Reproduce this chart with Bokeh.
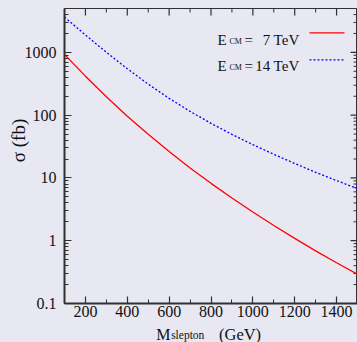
import math
from bokeh.plotting import figure
from bokeh.layouts import column
from bokeh.models import FixedTicker, Label, Arrow, CustomJSTickFormatter, Range1d
from bokeh.embed import file_html
from bokeh.resources import INLINE

# ---- data ----
mass = [100, 200, 300, 400, 500, 600, 700, 800, 900, 1000, 1100, 1200, 1300, 1400, 1500]
sigma_7tev = [929, 418, 196, 96.4, 49.5, 26.3, 14.45, 8.20, 4.79, 2.86, 1.746, 1.089, 0.690, 0.446, 0.292]
sigma_14tev = [3656, 1892, 1002, 550, 312, 185, 115, 74.1, 49.4, 33.9, 23.8, 17.0, 12.3, 9.08, 6.76]

x_major = [200, 400, 600, 800, 1000, 1200, 1400]
x_minor = [100, 300, 500, 700, 900, 1100, 1300, 1500]
y_major = [0.1, 1, 10, 100, 1000]
y_minor = [m * d for d in [0.1, 1, 10, 100, 1000] for m in range(2, 10)]

legend_7 = "7 TeV"
legend_14 = "14 TeV"
y_title = "σ (fb)"

X0, X1 = 100, 1500
Y0, Y1 = 0.1, 5000
W, H = 357, 342
STRIP = 19                      # height of the strip holding the x title
PH = H - STRIP                  # height of the main plot
LEFT, RIGHT, TOP, BOTTOM = 63, 0, 8, 20
FW, FH = W - LEFT - RIGHT, PH - TOP - BOTTOM

BG = "#e8e8f2"
AX = "#303030"
TXT = "#111111"
FONT = "Liberation Serif"

p = figure(width=W, height=PH, y_axis_type="log",
           x_range=Range1d(X0, X1), y_range=Range1d(Y0, Y1),
           output_backend="svg", toolbar_location=None,
           min_border_left=LEFT, min_border_right=RIGHT, min_border_top=TOP,
           min_border_bottom=BOTTOM,
           background_fill_color=BG, border_fill_color=BG,
           outline_line_color=AX, outline_line_width=1)
p.grid.visible = False

MAJ, MIN = 7, 4

for ax, ticks, minors in [(p.xaxis[0], x_major, x_minor), (p.yaxis[0], y_major, y_minor)]:
    ax.ticker = FixedTicker(ticks=ticks, minor_ticks=minors)
    ax.major_tick_in = MAJ
    ax.major_tick_out = 0
    ax.minor_tick_in = MIN
    ax.minor_tick_out = 0
    ax.axis_line_color = AX
    ax.axis_line_width = 2
    ax.major_tick_line_color = AX
    ax.minor_tick_line_color = AX
    ax.major_tick_line_width = 1.2
    ax.minor_tick_line_width = 1
    ax.major_label_text_font = FONT
    ax.major_label_text_font_size = "16px"
    ax.major_label_text_color = TXT

p.xaxis[0].major_label_standoff = 2
p.yaxis[0].major_label_standoff = 8
p.yaxis[0].formatter = CustomJSTickFormatter(code="return tick.toString()")

# ---- mirrored ticks on top and right edges (from the same tick lists) ----
ppd = FH / math.log10(Y1 / Y0)          # pixels per decade
upx = (X1 - X0) / FW                    # data units per pixel (x)

def top_ticks(xs, length, lw):
    p.segment(x0=xs, y0=[Y1] * len(xs), x1=xs,
              y1=[Y1 / 10 ** (length / ppd)] * len(xs),
              line_color=AX, line_width=lw)

def right_ticks(ys, length, lw):
    p.segment(x0=[X1] * len(ys), y0=ys, x1=[X1 - length * upx] * len(ys), y1=ys,
              line_color=AX, line_width=lw)

top_ticks(x_major, MAJ, 1.2)
top_ticks(x_minor, MIN, 1)
right_ticks(y_major, MAJ, 1.2)
right_ticks(y_minor, MIN, 1)

# ---- curves ----
p.line(mass, sigma_7tev, line_color="#ff0000", line_width=1.3)
p.line(mass, sigma_14tev, line_color="#0000ff", line_width=1.3, line_dash="2 2")

# ---- legend (hand-built, inside the frame) ----
def lab(fig, text, x, y, size, align="left", angle=0.0, baseline="alphabetic"):
    fig.add_layout(Label(x=x, y=y, x_units="screen", y_units="screen", text=text,
                         text_font=FONT, text_font_size=size, text_color=TXT,
                         text_align=align, text_baseline=baseline, angle=angle))

for base, txt in [(264, legend_7), (238, legend_14)]:
    lab(p, "E", 153, base, "15px")
    lab(p, "CM", 165, base - 1.7, "8px")
    lab(p, "=", 180, base, "15px")
    lab(p, txt, 235, base, "15px", align="right")

p.add_layout(Arrow(end=None, x_start=245, y_start=270.7, x_end=280, y_end=270.7,
                   start_units="screen", end_units="screen",
                   line_color="#ff0000", line_width=1.3))
p.add_layout(Arrow(end=None, x_start=245, y_start=243.7, x_end=280, y_end=243.7,
                   start_units="screen", end_units="screen",
                   line_color="#0000ff", line_width=1.3, line_dash="2 2"))

# ---- y title: one label in the left side panel (not clipped there) ----
def px2x(px):
    return X0 + (px - LEFT) * upx

def py2y(py):
    return Y0 * 10 ** ((TOP + FH - py) / ppd)

p.add_layout(Label(x=px2x(17), y=py2y(140), x_units="data", y_units="data", text=y_title,
                   text_font=FONT, text_font_size="19px", text_color=TXT,
                   text_align="center", text_baseline="middle", angle=math.pi / 2), "left")

# ---- x title: a thin strip under the plot (its frame lines up with the plot's) ----
strip = figure(width=W, height=STRIP, output_backend="svg", toolbar_location=None,
               x_range=Range1d(X0, X1), y_range=Range1d(0, 1),
               x_axis_location=None, y_axis_location=None,
               min_border=0, background_fill_color=BG, border_fill_color=BG,
               outline_line_color=None)
strip.grid.visible = False
strip.title.visible = False

def xlab(text, px, size):
    # anchored to the strip's top edge; baseline a few px below it
    strip.add_layout(Label(x=px2x(px), y=1, x_units="data", y_units="data", y_offset=-11,
                           text=text, text_font=FONT, text_font_size=size, text_color=TXT,
                           text_align="left", text_baseline="alphabetic"))

xlab("M", 155, "16px")
xlab("slepton", 170, "11.5px")
xlab("(GeV)", 218, "16.5px")

layout = column(p, strip, spacing=0, styles={"background-color": BG})
open("out.html", "w").write(file_html(layout, INLINE))
